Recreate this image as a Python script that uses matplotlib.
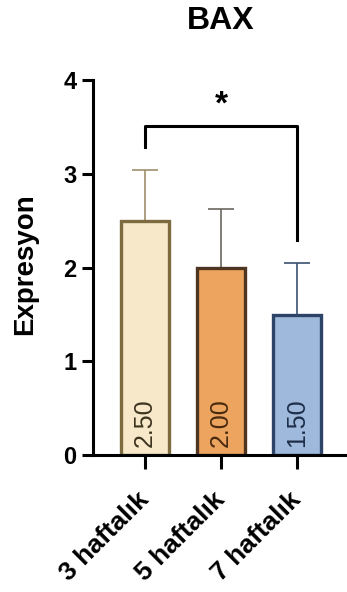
import matplotlib.pyplot as plt

plt.rcParams['font.family'] = ['Liberation Sans', 'DejaVu Sans']

groups = ['3 haftalık', '5 haftalık', '7 haftalık']
means = [2.50, 2.00, 1.50]
err_up = [0.54, 0.62, 0.55]
value_labels = ['2.50', '2.00', '1.50']

fills = ['#f6e8c8', '#eca45e', '#9fb9dc']
edges = ['#7d6a3e', '#4d3520', '#2d4468']
err_colors = ['#a08f6c', '#6b6760', '#3c5070']
text_colors = ['#3d3420', '#4a2a10', '#1f2f4a']

# significance bracket: (left group, right group, top, left drop, right drop)
sig_pair = (0, 2)
sig_top = 3.51
sig_ends = (3.29, 2.29)

fig = plt.figure(figsize=(3.47, 5.92), dpi=100)
ax = fig.add_axes([0.268, 0.231, 0.732, 0.634])

x = list(range(len(groups)))
for i in x:
    ax.errorbar(i, means[i], yerr=[[0], [err_up[i]]], color=err_colors[i],
                elinewidth=1.2, capsize=9.5, capthick=1.2, zorder=1)
ax.bar(x, means, width=0.63, color=fills, edgecolor=edges, linewidth=2.4, zorder=2)

for i in x:
    ax.text(i, 0.085, value_labels[i], rotation=90, ha='center', va='bottom',
            fontsize=18, color=text_colors[i], zorder=3)

l, r = sig_pair
ax.plot([l, l, r, r], [sig_ends[0], sig_top, sig_top, sig_ends[1]],
        color='black', linewidth=2.2, clip_on=False, zorder=3)
ax.text((l + r) / 2, 3.57, '*', ha='center', va='bottom', fontsize=24,
        fontweight='bold')

ax.set_xlim(-0.684, 2.658)
ax.set_ylim(0, 4)
ax.set_yticks([0, 1, 2, 3, 4])
ax.set_xticks(x)
ax.set_xticklabels(groups, rotation=45, ha='right', va='center',
                   rotation_mode='anchor', fontsize=19, fontweight='bold')
for lab in ax.get_yticklabels():
    lab.set_fontweight('bold')
ax.tick_params(axis='y', labelsize=17, width=2.2, length=8, pad=4)
ax.tick_params(axis='x', width=2.2, length=10, pad=19)

for s in ['top', 'right']:
    ax.spines[s].set_visible(False)
for s in ['left', 'bottom']:
    ax.spines[s].set_linewidth(2.2)

fig.text(25 / 347, 1 - 264 / 592, 'Expresyon', rotation=90, ha='center',
         va='center', fontsize=20, fontweight='bold')

fig.text(221 / 347, 1 - 21 / 592, 'BAX', ha='center', va='center',
         fontsize=23, fontweight='bold')

fig.savefig('out.png', dpi=100)
